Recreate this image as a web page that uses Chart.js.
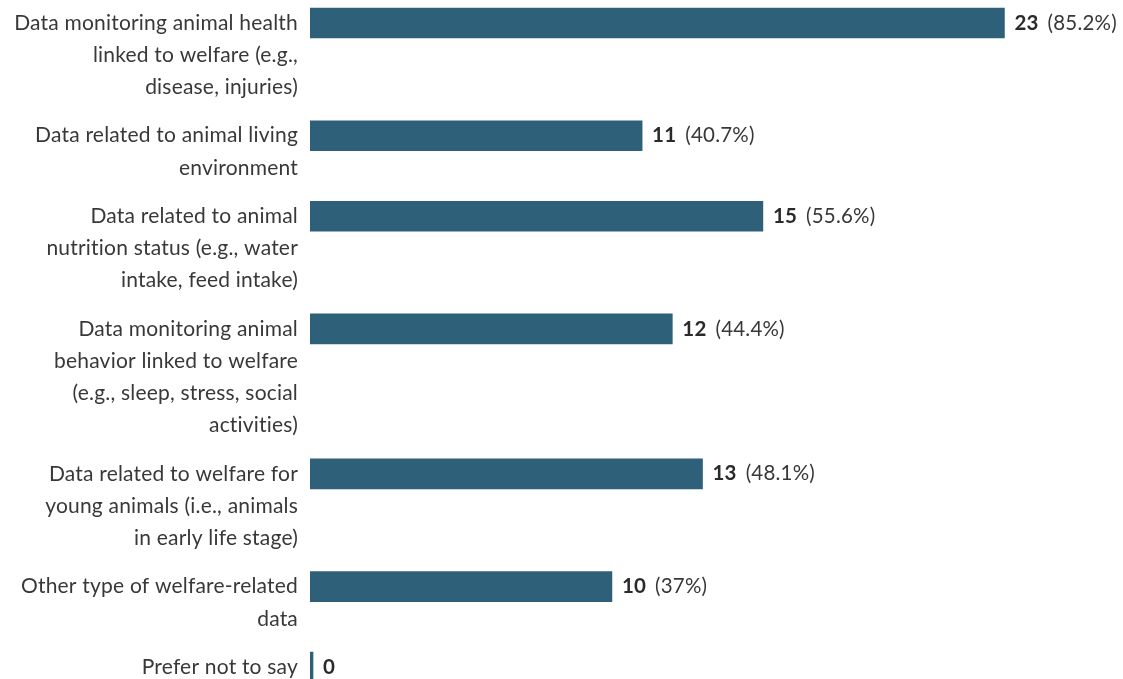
<!DOCTYPE html>
<html>
<head>
<meta charset="utf-8">
<script src="https://cdn.jsdelivr.net/npm/chart.js@4"></script>
<style>
  html, body { margin: 0; padding: 0; background: #ffffff; }
  #wrap { width: 1123px; height: 679px; position: relative; }
</style>
</head>
<body>
<div id="wrap"><canvas id="c"></canvas></div>
<script>
const categories = [
  ["Data monitoring animal health", "linked to welfare (e.g.,", "disease, injuries)"],
  ["Data related to animal living", "environment"],
  ["Data related to animal", "nutrition status (e.g., water", "intake, feed intake)"],
  ["Data monitoring animal", "behavior linked to welfare", "(e.g., sleep, stress, social", "activities)"],
  ["Data related to welfare for", "young animals (i.e., animals", "in early life stage)"],
  ["Other type of welfare-related", "data"],
  ["Prefer not to say"]
];
const counts = [23, 11, 15, 12, 13, 10, 0];
const percents = ["85.2%", "40.7%", "55.6%", "44.4%", "48.1%", "37%", null];

// Layout: each category occupies its number of label lines plus a half-line gap
const positions = [];
let acc = 0;
for (const c of categories) { positions.push(acc); acc += c.length + 0.5; }

const FONT = "Lato, 'Open Sans', sans-serif";
const TEXT = "#383838";
const BAR = "#2f6079";
const LINE_H = 32.2;

const labelPlugin = {
  id: 'labels',
  afterDatasetsDraw(chart) {
    const ctx = chart.ctx;
    const meta = chart.getDatasetMeta(0);
    const yScale = chart.scales.y;
    ctx.save();
    ctx.textBaseline = 'middle';
    ctx.letterSpacing = "0.2px";
    categories.forEach((lines, i) => {
      const y0 = yScale.getPixelForValue(positions[i]);
      ctx.font = "21px " + FONT;
      ctx.fillStyle = TEXT;
      ctx.textAlign = 'right';
      lines.forEach((ln, j) => ctx.fillText(ln, 298, y0 + j * LINE_H));
      const bar = meta.data[i];
      let x = bar.x + 10;
      ctx.textAlign = 'left';
      ctx.font = "bold 20.5px " + FONT;
      ctx.fillStyle = "#2a2a2a";
      const n = String(counts[i]);
      ctx.fillText(n, x, y0);
      x += ctx.measureText(n).width + 9;
      if (percents[i]) {
        ctx.font = "20.5px " + FONT;
        ctx.fillStyle = TEXT;
        ctx.fillText("(" + percents[i] + ")", x, y0);
      }
    });
    ctx.restore();
  }
};

new Chart(document.getElementById('c'), {
  type: 'bar',
  data: {
    datasets: [{
      data: counts.map((v, i) => ({ x: v, y: positions[i] })),
      backgroundColor: BAR,
      borderWidth: 0,
      barThickness: 30,
      minBarLength: 3
    }]
  },
  options: {
    indexAxis: 'y',
    responsive: true,
    maintainAspectRatio: false,
    animation: false,
    layout: { padding: { left: 310, right: 28, top: 0, bottom: 0 } },
    plugins: { legend: { display: false }, tooltip: { enabled: false } },
    scales: {
      x: { type: 'linear', min: 0, max: 26, display: false, grid: { display: false } },
      y: { type: 'linear', reverse: true, offset: false, min: -0.714, max: 20.37, display: false, grid: { display: false } }
    }
  },
  plugins: [labelPlugin]
});
</script>
</body>
</html>
